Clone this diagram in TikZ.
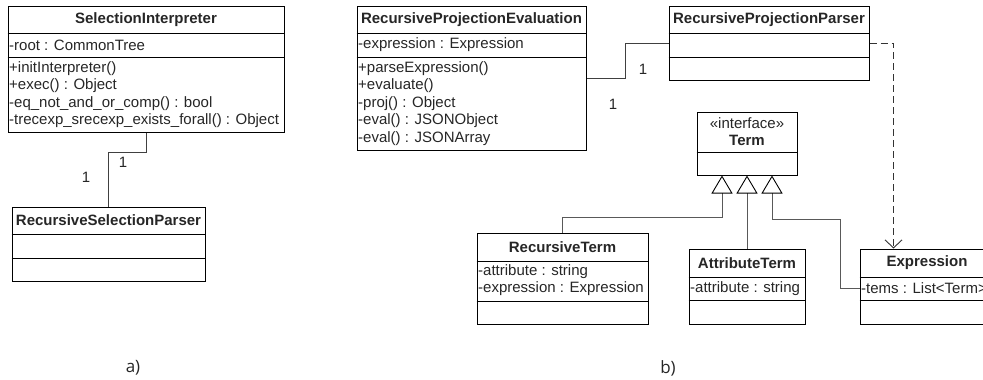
\documentclass[tikz,border=0pt]{standalone}
\usepackage{fontspec}
\setmainfont{Liberation Sans}
\newfontfamily\capfont{Open Sans}
\usetikzlibrary{arrows.meta,positioning,calc}

\begin{document}
\begin{tikzpicture}[
    x=1pt, y=-1pt,
    font=\fontsize{15}{17.5}\selectfont,
    cls/.style={draw,rectangle,inner sep=0pt,line width=1pt},
    ttl/.style={font=\fontsize{15}{17.5}\selectfont\bfseries,inner sep=0pt,text=black!85},
    mem/.style={anchor=west,align=left,inner sep=1pt,text=black!85},
    sep/.style={line width=1pt},
    assoc/.style={draw=black!75,line width=0.9pt},
    gen/.style={draw=black!65,line width=0.9pt,-{Triangle[open,width=21pt,length=18pt,color=black]}},
    dep/.style={draw=black!80,line width=0.9pt,dash pattern=on 7pt off 4pt,-{Straight Barb[width=17pt,length=8pt]}},
    mult/.style={inner sep=0pt,text=black!85},
    subcap/.style={font=\capfont\fontsize{17}{20}\selectfont,text=black!85}
]
\useasboundingbox (0,0) rectangle (983,380);
\clip (0,0) rectangle (983,380);

% a) selection
\node[cls,minimum width=276pt,minimum height=126pt] (si) at (146,69) {};
\draw[sep] (si.west |- 0,33) -- (si.east |- 0,33);
\draw[sep] (si.west |- 0,57) -- (si.east |- 0,57);
\node[ttl] (si-t) at (146,19.5) {SelectionInterpreter};
\node[mem] (si-a) at (8,45) {-root : CommonTree};
\node[mem] (si-m) at (8,94.5) {+initInterpreter()\\+exec() : Object\\-eq\_not\_and\_or\_comp() : bool\\-trecexp\_srecexp\_exists\_forall() : Object};

\node[cls,minimum width=193pt,minimum height=74pt] (rsp) at (108.5,244) {};
\draw[sep] (rsp.west |- 0,234) -- (rsp.east |- 0,234);
\draw[sep] (rsp.west |- 0,258) -- (rsp.east |- 0,258);
\node[ttl] (rsp-t) at (108.5,220.5) {RecursiveSelectionParser};

\draw[assoc] (si.south) -- ++(0,20) -| (rsp.north);
\node[mult] (m-si) at (123,162) {1};
\node[mult] (m-rsp) at (86,177) {1};

% b) projection
\node[cls,minimum width=229pt,minimum height=144pt] (rpe) at (471.5,78) {};
\draw[sep] (rpe.west |- 0,33) -- (rpe.east |- 0,33);
\draw[sep] (rpe.west |- 0,57) -- (rpe.east |- 0,57);
\node[ttl] (rpe-t) at (471.5,19.5) {RecursiveProjectionEvaluation};
\node[mem] (rpe-a) at (357,45) {-expression : Expression};
\node[mem] (rpe-m) at (357,103.5) {+parseExpression()\\+evaluate()\\-proj() : Object\\-eval() : JSONObject\\-eval() : JSONArray};

\node[cls,minimum width=200pt,minimum height=74pt] (rpp) at (769,43) {};
\draw[sep] (rpp.west |- 0,33) -- (rpp.east |- 0,33);
\draw[sep] (rpp.west |- 0,57) -- (rpp.east |- 0,57);
\node[ttl] (rpp-t) at (769,19.5) {RecursiveProjectionParser};

\node[cls,minimum width=100pt,minimum height=63pt] (term) at (747,143.5) {};
\draw[sep] (term.west |- 0,152) -- (term.east |- 0,152);
\node[align=center,inner sep=0pt,text=black!85] (term-t) at (747,131.5) {«interface»\\\textbf{Term}};

\node[cls,minimum width=171pt,minimum height=91pt] (rt) at (562.5,278.5) {};
\draw[sep] (rt.west |- 0,261) -- (rt.east |- 0,261);
\draw[sep] (rt.west |- 0,301) -- (rt.east |- 0,301);
\node[ttl] (rt-t) at (562.5,247) {RecursiveTerm};
\node[mem] (rt-a) at (477,280) {-attribute : string\\-expression : Expression};

\node[cls,minimum width=116pt,minimum height=75pt] (at) at (747,286.5) {};
\draw[sep] (at.west |- 0,277) -- (at.east |- 0,277);
\draw[sep] (at.west |- 0,300) -- (at.east |- 0,300);
\node[ttl] (at-t) at (747,263) {AttributeTerm};
\node[mem] (at-a) at (689,288.5) {-attribute : string};

\node[cls,minimum width=134pt,minimum height=75pt] (ex) at (927,286.5) {};
\draw[sep] (ex.west |- 0,277) -- (ex.east |- 0,277);
\draw[sep] (ex.west |- 0,300) -- (ex.east |- 0,300);
\node[ttl] (ex-t) at (927,263) {Expression};
\node[mem] (ex-a) at (860,288.5) {-tems : List<Term>};

\draw[assoc] (rpe.east) -- ++(39,0) |- (rpp.west);
\node[mult] (m-rpp) at (643,69) {1};
\node[mult] (m-rpe) at (613,104) {1};
\draw[dep] (rpp.east) -| ([xshift=34pt]ex.north west);

\draw[gen] (rt.north) -- ++(0,-15) -| ([xshift=-25pt]term.south);
\draw[gen] (at.north) -- (term.south);
\draw[gen] (ex-a.west) -- ++(-20,0) -- ++(0,-69) -| ([xshift=25pt]term.south);

\node[subcap] (cap-a) at (133,368) {a)};
\node[subcap] (cap-b) at (668,368) {b)};
\end{tikzpicture}
\end{document}
